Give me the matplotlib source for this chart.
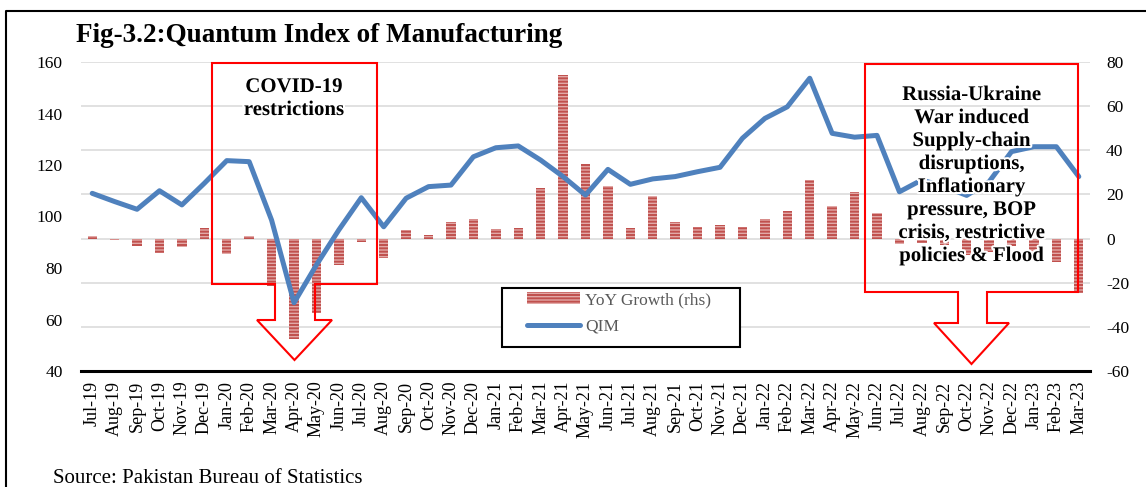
import matplotlib
matplotlib.use('Agg')
import matplotlib.pyplot as plt
from matplotlib.patches import Polygon, Rectangle
from matplotlib.lines import Line2D
import matplotlib.patheffects as pe
import numpy as np

months = ["Jul-19", "Aug-19", "Sep-19", "Oct-19", "Nov-19", "Dec-19",
          "Jan-20", "Feb-20", "Mar-20", "Apr-20", "May-20", "Jun-20",
          "Jul-20", "Aug-20", "Sep-20", "Oct-20", "Nov-20", "Dec-20",
          "Jan-21", "Feb-21", "Mar-21", "Apr-21", "May-21", "Jun-21",
          "Jul-21", "Aug-21", "Sep-21", "Oct-21", "Nov-21", "Dec-21",
          "Jan-22", "Feb-22", "Mar-22", "Apr-22", "May-22", "Jun-22",
          "Jul-22", "Aug-22", "Sep-22", "Oct-22", "Nov-22", "Dec-22",
          "Jan-23", "Feb-23", "Mar-23"]

qim = [109.0, 105.8, 102.8, 110.0, 104.5, 112.9,
       121.7, 121.3, 98.6, 66.5, 81.2, 94.8,
       107.3, 96.0, 107.1, 111.6, 112.2, 123.2,
       126.7, 127.4, 121.9, 115.5, 108.3, 118.3,
       112.5, 114.6, 115.5, 117.4, 119.1, 130.4,
       138.1, 142.6, 153.7, 132.3, 130.8, 131.5,
       109.6, 114.2, 111.6, 108.2, 113.5, 125.2,
       127.1, 127.1, 115.5]

yoy = [1.2, -0.5, -3.3, -6.6, -4.0, 4.9,
       -7.0, 1.0, -21.5, -45.6, -33.5, -12.0,
       -1.6, -9.0, 3.8, 1.6, 7.4, 8.7,
       4.2, 4.9, 23.1, 74.1, 33.7, 24.0,
       4.7, 19.5, 7.7, 5.4, 6.2, 5.4,
       8.9, 12.5, 26.6, 14.9, 21.3, 11.7,
       -2.5, -2.0, -3.0, -7.4, -6.2, -3.5,
       -7.7, -10.6, -24.6]

left_ticks = [40, 60, 80, 100, 120, 140, 160]
right_ticks = [-60, -40, -20, 0, 20, 40, 60, 80]

title = "Fig-3.2:Quantum Index of Manufacturing"
source = "Source: Pakistan Bureau of Statistics"
covid_note = "COVID-19\nrestrictions"
war_note = ("Russia-Ukraine\nWar induced\nSupply-chain\ndisruptions,\n"
            "Inflationary\npressure, BOP\ncrisis, restrictive\npolicies & Flood")

W, H = 1146, 487
plt.rcParams['font.family'] = ['Liberation Serif', 'DejaVu Serif']
plt.rcParams['hatch.linewidth'] = 1.4
plt.rcParams['axes.unicode_minus'] = False


def fx(px):
    return px / W


def fy(py):
    return 1 - py / H


fig = plt.figure(figsize=(W / 100, H / 100), dpi=100)
ax = fig.add_axes([fx(81), fy(371), (1090 - 81) / W, (371 - 62) / H])
ax2 = ax.twinx()
ax.set_zorder(ax2.get_zorder() + 1)
ax.patch.set_visible(False)

x = np.arange(len(months))
bars = ax2.bar(x, yoy, width=0.42, facecolor='#E2A9A7', edgecolor='#C0504D',
               hatch='-----', linewidth=0, label='YoY Growth (rhs)', zorder=2)
line, = ax.plot(x, qim, color='#4F81BD', lw=3.6, solid_capstyle='round',
                solid_joinstyle='round', label='QIM', zorder=3)

ax.set_xlim(-0.5, len(months) - 0.5)
ax.set_ylim(40, 160)
ax.set_yticks(left_ticks)
ax2.set_ylim(-60, 80)
ax2.set_yticks(right_ticks)
ax2.grid(axis='y', color='#D9D9D9', lw=1.1)
ax2.set_axisbelow(True)

ax.set_xticks(x)
ax.set_xticklabels(months, rotation=90, fontsize=13)
ax.tick_params(axis='x', length=0, pad=7, colors='black')
ax.tick_params(axis='y', length=0, pad=13, labelsize=12.5, colors='black')
ax2.tick_params(axis='y', length=0, pad=11.5, labelsize=12.5, colors='black')

for s in ['top', 'left', 'right']:
    ax.spines[s].set_visible(False)
ax.spines['bottom'].set_color('black')
ax.spines['bottom'].set_linewidth(2.2)
for s in ax2.spines.values():
    s.set_visible(False)

# legend with custom frame
fig.add_artist(Rectangle((fx(501.7), fy(346.7)), (740 - 501.7) / W, (346.7 - 287.7) / H,
                         transform=fig.transFigure, facecolor='white',
                         edgecolor='black', lw=1.5, zorder=4))
leg = fig.legend([bars, line], ['YoY Growth (rhs)', 'QIM'], loc='upper left',
                 bbox_to_anchor=(fx(527), fy(292)), frameon=False, fontsize=12.5,
                 handlelength=3.05, handleheight=0.63, handletextpad=0.3,
                 labelspacing=0.6, borderpad=0, borderaxespad=0)
leg.set_zorder(5)
for t in leg.get_texts():
    t.set_color('#595959')

# callout shapes
covid_pts = [(212, 63), (377, 63), (377, 284), (315, 284), (315, 320), (332, 320),
             (294.5, 360), (257, 320), (275, 320), (275, 284), (212, 284)]
war_pts = [(865, 64), (1078, 64), (1078, 292), (987, 292), (987, 323), (1009, 323),
           (971.5, 364), (934, 323), (958, 323), (958, 292), (865, 292)]
for pts in (covid_pts, war_pts):
    fig.add_artist(Polygon([(fx(a), fy(b)) for a, b in pts], closed=True, fill=False,
                           edgecolor='#FF0000', lw=1.5, transform=fig.transFigure,
                           zorder=6))

glow = [pe.withStroke(linewidth=3, foreground='white')]
fig.text(fx(294), fy(98.5), covid_note, ha='center', va='center', fontsize=15,
         fontweight='bold', linespacing=1.2, path_effects=glow, zorder=7)
fig.text(fx(971.7), fy(175.5), war_note, ha='center', va='center', fontsize=15,
         fontweight='bold', linespacing=1.2, path_effects=glow, zorder=7)

fig.text(fx(76), fy(42), title, fontsize=19.5, fontweight='bold', va='baseline')
fig.text(fx(53), fy(483), source, fontsize=15, va='baseline')

fig.add_artist(Line2D([fx(6), fx(6), fx(W + 5)], [fy(H + 5), fy(11), fy(11)],
                      transform=fig.transFigure, color='black', lw=1.5))

fig.savefig('out.png', dpi=100)
